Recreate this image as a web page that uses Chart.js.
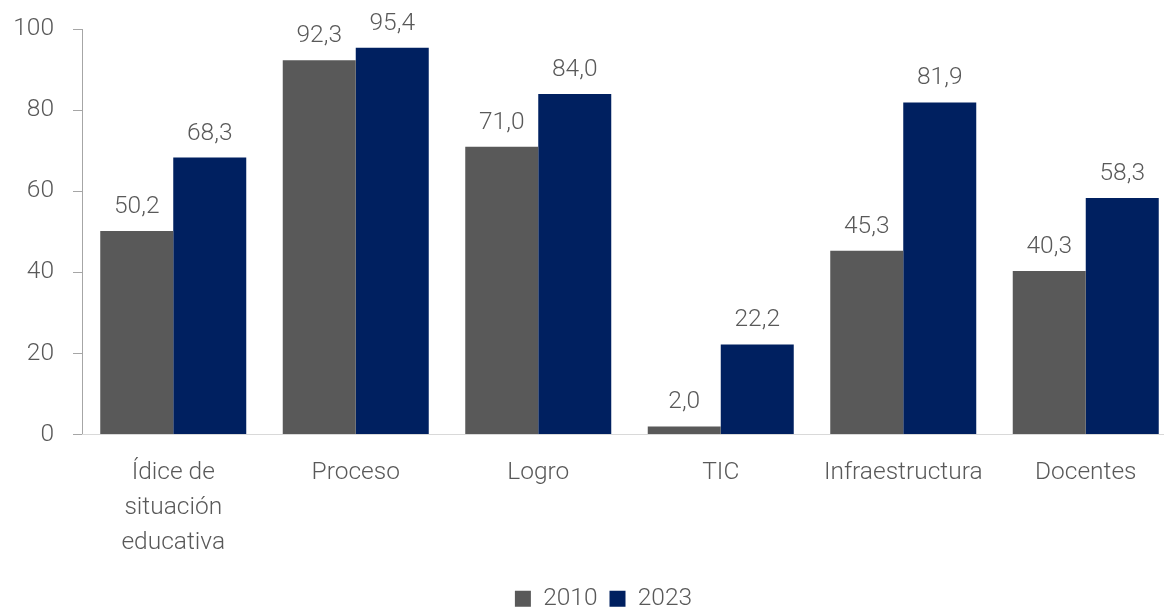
<!DOCTYPE html>
<html>
<head>
<meta charset="utf-8">
<script src="https://cdn.jsdelivr.net/npm/chart.js@4/dist/chart.umd.min.js"></script>
<style>
    html, body { margin: 0; padding: 0; background: #ffffff; overflow: hidden; }
    #wrap { width: 1180px; height: 609px; }
</style>
</head>
<body>
<div id="wrap"><canvas id="barChart" width="1180" height="609"></canvas></div>
<script>
const categories = [
    ['Ídice de', 'situación', 'educativa'],
    'Proceso',
    'Logro',
    'TIC',
    'Infraestructura',
    'Docentes'
];
const seriesNames = ['2010', '2023'];
const values2010 = [50.2, 92.3, 71.0, 2.0, 45.3, 40.3];
const values2023 = [68.3, 95.4, 84.0, 22.2, 81.9, 58.3];
const yTicks = [0, 20, 40, 60, 80, 100];

const textColor = '#595959';
const fontFamily = 'Roboto, "Noto Sans", sans-serif';
const fontSize = 24.5;

// writes each bar's value above it, with a decimal comma
const valueLabels = {
    id: 'valueLabels',
    afterDatasetsDraw(chart) {
        const ctx = chart.ctx;
        ctx.save();
        ctx.font = '300 ' + fontSize + 'px ' + fontFamily;
        ctx.fillStyle = textColor;
        ctx.textAlign = 'center';
        ctx.textBaseline = 'alphabetic';
        chart.data.datasets.forEach(function (dataset, i) {
            chart.getDatasetMeta(i).data.forEach(function (bar, j) {
                var text = dataset.data[j].toFixed(1).replace('.', ',');
                ctx.fillText(text, bar.x, bar.y - 18);
            });
        });
        ctx.restore();
    }
};

// moves the legend right and down
const legendShift = {
    id: 'legendShift',
    afterLayout(chart) {
        chart.legend.left += 15;
        chart.legend.right += 15;
        chart.legend.top += 12;
        chart.legend.bottom += 12;
    }
};

var barChartControl = document.getElementById('barChart');

var barChart = new Chart(barChartControl, {
    type: 'bar',
    data: {
        labels: categories,
        datasets: [
            {
                label: seriesNames[0],
                data: values2010,
                backgroundColor: '#595959'
            },
            {
                label: seriesNames[1],
                data: values2023,
                backgroundColor: '#002060'
            }
        ]
    },
    options: {
        responsive: false,
        animation: false,
        categoryPercentage: 0.8,
        barPercentage: 1.0,
        layout: {
            padding: { left: 0, right: 3, top: 10, bottom: 0 }
        },
        scales: {
            y: {
                min: 0,
                max: 100,
                afterBuildTicks: function (scale) {
                    scale.ticks = yTicks.map(function (v) { return { value: v }; });
                },
                afterFit: function (scale) {
                    scale.width = 82;
                },
                grid: {
                    drawOnChartArea: false,
                    drawTicks: true,
                    tickLength: 9,
                    color: '#a6a6a6'
                },
                border: { color: '#a6a6a6', width: 1 },
                ticks: {
                    padding: 19,
                    color: textColor,
                    // small line height keeps the top of the plot near the canvas edge
                    font: { family: fontFamily, size: fontSize, weight: 300, lineHeight: 0.82 }
                }
            },
            x: {
                afterFit: function (scale) {
                    scale.height = 128;
                },
                grid: { display: false },
                border: { color: '#d9d9d9', width: 1 },
                ticks: {
                    padding: 13,
                    maxRotation: 0,
                    autoSkip: false,
                    color: textColor,
                    font: { family: fontFamily, size: fontSize, weight: 300, lineHeight: 1.43 }
                }
            }
        },
        plugins: {
            legend: {
                display: true,
                position: 'bottom',
                labels: {
                    boxWidth: 16,
                    boxHeight: 16,
                    padding: 12,
                    color: textColor,
                    font: { family: fontFamily, size: fontSize, weight: 300 }
                }
            },
            tooltip: { enabled: false }
        }
    },
    plugins: [valueLabels, legendShift]
});
</script>
</body>
</html>
